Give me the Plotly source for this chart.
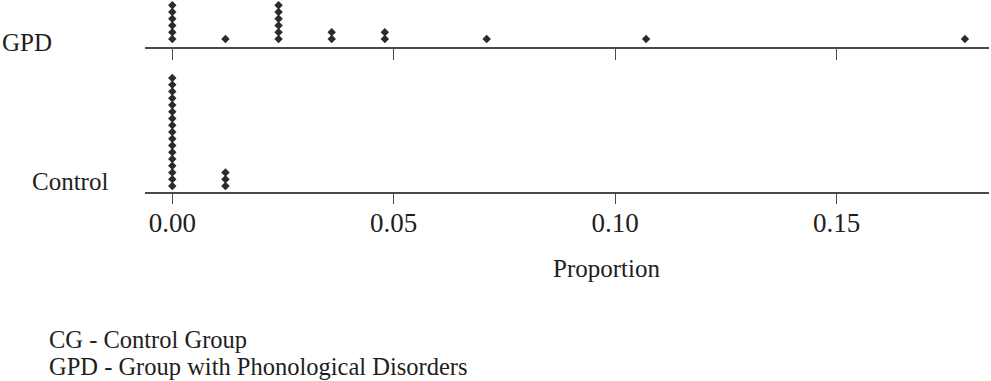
import plotly.graph_objects as go
from collections import Counter

# ---- data (proportions; one dot per item) ----
groups = ["GPD", "Control"]
gpd_props = [0.0]*6 + [0.012] + [0.024]*6 + [0.036]*2 + [0.048]*2 + [0.071, 0.107, 0.179]
control_props = [0.0]*17 + [0.012]*3
tick_vals = [0.00, 0.05, 0.10, 0.15]
tick_text = ["0.00", "0.05", "0.10", "0.15"]
notes = ["CG - Control Group", "GPD - Group with Phonological Disorders"]
x_title = "Proportion"

W, H = 991, 381
FONT = "Liberation Serif, Times New Roman, serif"
TXT = "#1e1e1e"
DOT = "#2b2b2b"
AX = "#4a4a4a"


def stack(vals):
    seen = Counter()
    ys = []
    for v in vals:
        seen[v] += 1
        ys.append(seen[v])
    return ys


def py(p):
    return 1 - p / H


fig = go.Figure()
fig.add_trace(go.Scatter(x=gpd_props, y=stack(gpd_props), mode="markers",
                         marker=dict(symbol="diamond", size=6.5, color=DOT),
                         xaxis="x", yaxis="y", showlegend=False, hoverinfo="x",
                         cliponaxis=False))
fig.add_trace(go.Scatter(x=control_props, y=stack(control_props), mode="markers",
                         marker=dict(symbol="diamond", size=6.5, color=DOT),
                         xaxis="x2", yaxis="y2", showlegend=False, hoverinfo="x",
                         cliponaxis=False))

xdom = [145 / W, 989 / W]
xrng = [(145 - 172.3) / 4428, (989 - 172.3) / 4428]
sp = 6.75  # px per stacked dot

common_x = dict(domain=xdom, range=xrng, showgrid=False, zeroline=False,
                showline=True, linecolor=AX, linewidth=1.5,
                ticks="outside", ticklen=11, tickwidth=1.3, tickcolor=AX,
                tickvals=tick_vals, ticktext=tick_text,
                tickfont=dict(family=FONT, size=27, color=TXT))

fig.update_layout(
    width=W, height=H, margin=dict(l=0, r=0, t=0, b=0),
    paper_bgcolor="white", plot_bgcolor="white",
    xaxis=dict(common_x, anchor="y", showticklabels=False),
    yaxis=dict(domain=[py(47), 1.0], range=[1 - 8 / sp, 1 + 39 / sp],
               visible=False),
    xaxis2=dict(common_x, anchor="y2", showticklabels=True, ticklabelstandoff=-5),
    yaxis2=dict(domain=[py(191.5), py(60)], range=[1 - 5.5 / sp, 1 + 126 / sp],
                visible=False),
)

ann = []
ann.append(dict(text=groups[0], x=0 / W, y=py(43), xanchor="left", yanchor="middle", size=25))
ann.append(dict(text=groups[1], x=110 / W, y=py(181), xanchor="right", yanchor="middle", size=25))
ann.append(dict(text=x_title, x=606 / W, y=py(268), xanchor="center", yanchor="middle", size=25))
ann.append(dict(text=notes[0], x=47 / W, y=py(339), xanchor="left", yanchor="middle", size=24.5))
ann.append(dict(text=notes[1], x=47 / W, y=py(366), xanchor="left", yanchor="middle", size=24.5))
for a in ann:
    s = a.pop("size")
    a.update(xref="paper", yref="paper", showarrow=False,
             font=dict(family=FONT, size=s, color=TXT))
fig.update_layout(annotations=ann)

fig.write_html("out.html", config={"displayModeBar": False},
               post_script="document.body.style.margin='0';document.body.style.overflow='hidden';")
